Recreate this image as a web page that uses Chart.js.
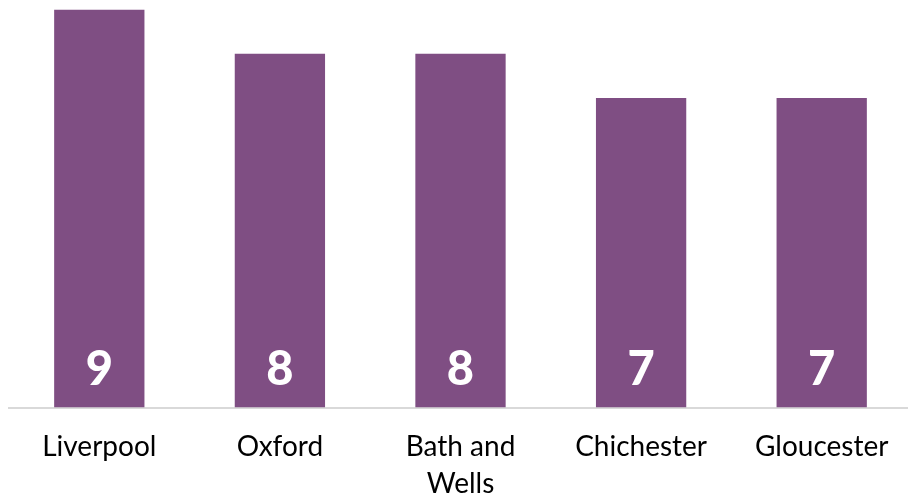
<!DOCTYPE html>
<html>
<head>
<meta charset="utf-8">
<script src="https://cdn.jsdelivr.net/npm/chart.js@4.4.0/dist/chart.umd.min.js"></script>
<style>
  html, body { margin: 0; padding: 0; background: #fff; overflow: hidden; }
  #wrap { width: 908px; height: 498px; overflow: hidden; position: relative; }
  #box { width: 912px; height: 498px; position: absolute; left: 0; top: 0; }
</style>
</head>
<body>
<div id="wrap"><div id="box"><canvas id="c"></canvas></div></div>
<script>
const categories = ['Liverpool', 'Oxford', ['Bath and', 'Wells'], 'Chichester', 'Gloucester'];
const values = [9, 8, 8, 7, 7];
const valueLabels = ['9', '8', '8', '7', '7'];

const inBarLabels = {
  id: 'inBarLabels',
  afterDatasetsDraw(chart) {
    const ctx = chart.ctx;
    const meta = chart.getDatasetMeta(0);
    const y0 = chart.scales.y.getPixelForValue(0);
    ctx.save();
    ctx.fillStyle = '#ffffff';
    ctx.font = '900 47px Lato, "Open Sans", sans-serif';
    ctx.textAlign = 'center';
    ctx.textBaseline = 'middle';
    meta.data.forEach((bar, i) => {
      ctx.fillText(valueLabels[i], bar.x, y0 - 38);
    });
    ctx.restore();
  }
};

new Chart(document.getElementById('c'), {
  type: 'bar',
  data: {
    labels: categories,
    datasets: [{
      data: values,
      backgroundColor: '#7f4e83',
      borderWidth: 0,
      categoryPercentage: 1,
      barPercentage: 0.5
    }]
  },
  options: {
    responsive: true,
    maintainAspectRatio: false,
    animation: false,
    layout: { padding: { left: 9, right: 0, top: 9.5, bottom: 0 } },
    plugins: { legend: { display: false }, tooltip: { enabled: false } },
    scales: {
      x: {
        grid: { display: false, drawTicks: false },
        border: { display: true, color: '#d9d9d9', width: 2 },
        ticks: {
          color: '#000',
          padding: 21,
          maxRotation: 0,
          autoSkip: false,
          font: { family: 'Lato, "Open Sans", sans-serif', size: 28, lineHeight: 1.32 }
        },
        afterFit(s) { s.height = 90.5; }
      },
      y: {
        display: false,
        min: 0,
        max: 9
      }
    }
  },
  plugins: [inBarLabels]
});
</script>
</body>
</html>
